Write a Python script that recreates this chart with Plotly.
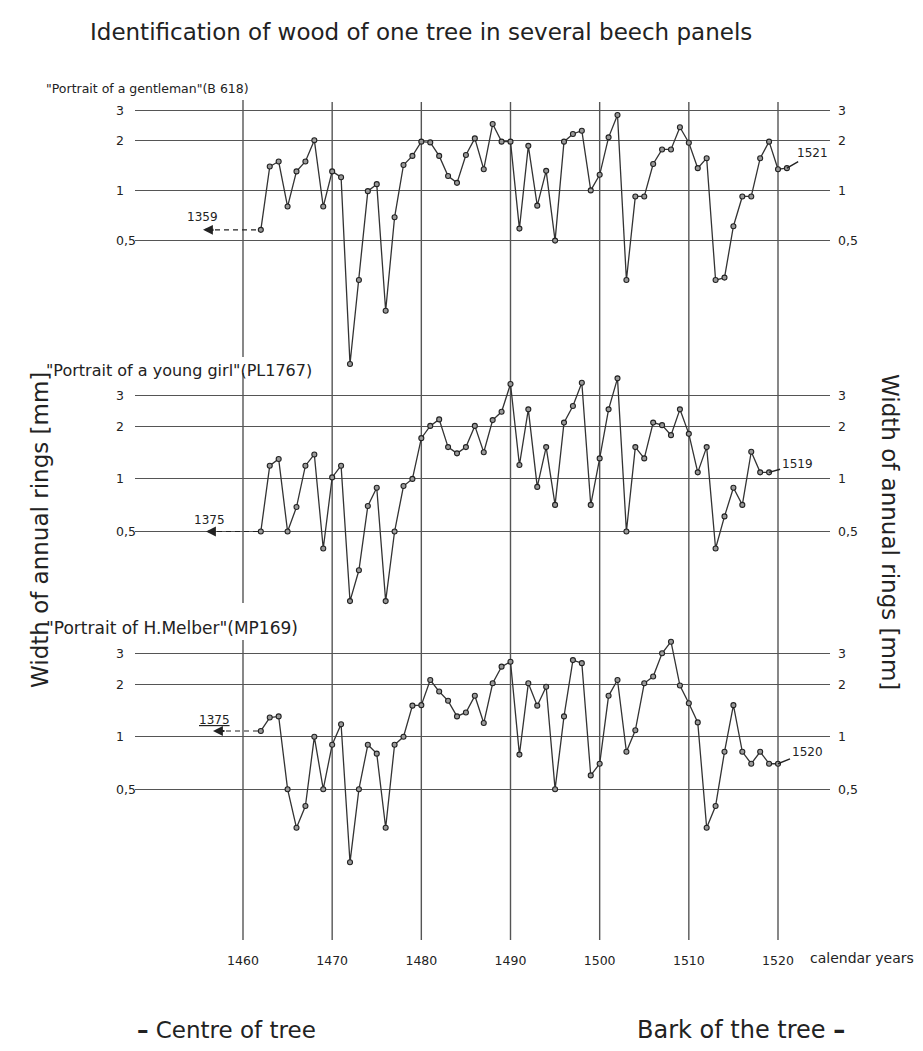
import math
import plotly.graph_objects as go

# ---------------- data ----------------
YEARS_GENTLEMAN = list(range(1462, 1522))
RINGS_GENTLEMAN = [0.58, 1.39, 1.49, 0.80, 1.30, 1.49, 2.00, 0.80, 1.30, 1.20,
                   0.091, 0.29, 0.99, 1.09, 0.19, 0.69, 1.42, 1.61, 1.96, 1.94,
                   1.61, 1.22, 1.11, 1.63, 2.05, 1.34, 2.50, 1.96, 1.96, 0.59,
                   1.85, 0.81, 1.31, 0.50, 1.96, 2.18, 2.28, 1.00, 1.24, 2.08,
                   2.83, 0.29, 0.92, 0.92, 1.44, 1.76, 1.76, 2.39, 1.93, 1.36,
                   1.56, 0.29, 0.30, 0.61, 0.92, 0.92, 1.56, 1.96, 1.34, 1.36]

YEARS_GIRL = list(range(1462, 1520))
RINGS_GIRL = [0.50, 1.19, 1.30, 0.50, 0.69, 1.19, 1.38, 0.40, 1.02, 1.19,
              0.20, 0.30, 0.70, 0.89, 0.20, 0.50, 0.91, 1.00, 1.71, 2.01,
              2.19, 1.52, 1.40, 1.52, 2.01, 1.42, 2.17, 2.42, 3.49, 1.20,
              2.50, 0.90, 1.52, 0.71, 2.10, 2.61, 3.55, 0.71, 1.31, 2.50,
              3.76, 0.50, 1.52, 1.31, 2.10, 2.03, 1.78, 2.50, 1.81, 1.09,
              1.52, 0.40, 0.61, 0.89, 0.71, 1.43, 1.09, 1.09]

YEARS_MELBER = list(range(1462, 1521))
RINGS_MELBER = [1.08, 1.29, 1.31, 0.50, 0.30, 0.40, 1.00, 0.50, 0.90, 1.18,
                0.19, 0.50, 0.90, 0.80, 0.30, 0.90, 1.00, 1.51, 1.52, 2.12,
                1.82, 1.61, 1.31, 1.38, 1.72, 1.20, 2.03, 2.53, 2.70, 0.79,
                2.03, 1.51, 1.94, 0.50, 1.31, 2.76, 2.65, 0.60, 0.70, 1.72,
                2.12, 0.82, 1.09, 2.03, 2.22, 3.02, 3.52, 1.97, 1.56, 1.21,
                0.30, 0.40, 0.82, 1.52, 0.82, 0.70, 0.82, 0.70, 0.70]

PANEL_TITLES = ['"Portrait of a gentleman"(B 618)',
                '"Portrait of a young girl"(PL1767)',
                '"Portrait of H.Melber"(MP169)']
START_LABELS = ["1359", "1375", "<u>1375</u>"]
END_LABELS = ["1521", "1519", "1520"]

Y_TICK_VALS = [0.5, 1, 2, 3]
Y_TICK_TEXT = ["0,5", "1", "2", "3"]
X_TICK_VALS = [1460, 1470, 1480, 1490, 1500, 1510, 1520]
X_TICK_TEXT = ["1460", "1470", "1480", "1490", "1500", "1510", "1520"]

TITLE = "Identification of wood of one tree in several beech panels"
Y_TITLE = "Width of annual rings [mm]"
X_UNIT = "calendar years"
LEFT_NOTE = "<b>\u2013</b> Centre of tree"
RIGHT_NOTE = "Bark of the tree <b>\u2013</b>"

# ---------------- geometry (page pixels) ----------------
OFF = 8                      # body margin of the html page
W, H = 923 - OFF, 1051 - OFF
PL, PR, PT, PB = 135, 830, 100, 940
X0_PX, X1_PX = 243, 778          # pixel of 1460 and 1520
XK = (X1_PX - X0_PX) / 60.0

# per panel: pixel of value 1, px per decade, top px, bottom px
PANELS = [(190.4, 166.8, 100, 372),
          (478.9, 174.8, 375, 615),
          (736.8, 174.0, 636, 880)]
SUB_Y = [88, 370, 628]
SUB_SIZE = [12.5, 16, 17]
START_GEOM = [  # label centre px, arrow head px, arrow tail px, label dy
    (202, 203, 215, -13),
    (209, 206, 217, -12),
    (214, 213, 226, -11)]
END_OFFS = [(26, -15), (28, -8), (29, -12)]

FONT = "DejaVu Sans"
INK = "#222222"
GRID = "#555555"


def py(p):
    return (PB - p) / (PB - PT)


def px(p):
    return (p - PL) / (PR - PL)


def yr(p):
    return 1460 + (p - X0_PX) / XK


def note(x, y, text, size, **kw):
    d = dict(x=px(x), y=py(y), xref="paper", yref="paper", text=text,
             showarrow=False, xanchor="center", yanchor="middle",
             font=dict(family=FONT, size=size, color=INK))
    d.update(kw)
    return d


fig = go.Figure()
series = [(YEARS_GENTLEMAN, RINGS_GENTLEMAN),
          (YEARS_GIRL, RINGS_GIRL),
          (YEARS_MELBER, RINGS_MELBER)]

annotations = []
shapes = []
layout_axes = {}

for i, ((yrs, vals), (c, k, top, bot)) in enumerate(zip(series, PANELS)):
    yname = "y" if i == 0 else f"y{i+1}"
    axname = "yaxis" if i == 0 else f"yaxis{i+1}"
    layout_axes[axname] = dict(
        type="log", domain=[py(bot), py(top)],
        range=[(c - bot) / k, (c - top) / k],
        tickmode="array", tickvals=Y_TICK_VALS, showticklabels=False,
        showgrid=True, gridcolor=GRID, gridwidth=1.4, zeroline=False,
        showline=False, ticks="", anchor="x", fixedrange=True)

    # dashed lead-in from the arrow to the first measured ring
    lab_c, head, tail, dy = START_GEOM[i]
    fig.add_trace(go.Scatter(
        x=[yr(tail), yrs[0]], y=[vals[0], vals[0]], yaxis=yname, xaxis="x",
        mode="lines", line=dict(color=INK, width=1.2, dash="5px,4px"),
        hoverinfo="skip", showlegend=False))
    # measured series
    fig.add_trace(go.Scatter(
        x=yrs, y=vals, yaxis=yname, xaxis="x", mode="lines+markers",
        line=dict(color="#333333", width=1.3),
        marker=dict(size=5, color="#9a9a9a", line=dict(color=INK, width=1.1)),
        showlegend=False, name=PANEL_TITLES[i]))

    lv0 = math.log10(vals[0])
    # arrow pointing to the tree centre
    annotations.append(dict(
        x=yr(head), y=lv0, xref="x", yref=yname, text="", showarrow=True,
        ax=tail - head, ay=0, arrowhead=2, arrowsize=0.9, arrowwidth=2.2,
        arrowcolor=INK))
    annotations.append(dict(
        x=yr(lab_c), y=lv0, xref="x", yref=yname, text=START_LABELS[i],
        showarrow=False, yshift=-dy, xanchor="center", yanchor="middle",
        font=dict(family=FONT, size=12, color=INK)))
    # end label with pointer
    axo, ayo = END_OFFS[i]
    annotations.append(dict(
        x=yrs[-1], y=math.log10(vals[-1]), xref="x", yref=yname,
        text=END_LABELS[i], showarrow=True, arrowhead=0, arrowwidth=1.4,
        arrowcolor=INK, ax=axo, ay=ayo, standoff=0,
        font=dict(family=FONT, size=12, color=INK)))
    # tick labels on both sides
    for v, t in zip(Y_TICK_VALS, Y_TICK_TEXT):
        for xl in (114, 836):
            annotations.append(dict(
                x=px(xl), y=math.log10(v), xref="paper", yref=yname, text=t,
                showarrow=False, xanchor="left", yanchor="middle",
                font=dict(family=FONT, size=12.5, color=INK)))
    # panel title
    annotations.append(note(44, SUB_Y[i], PANEL_TITLES[i], SUB_SIZE[i],
                            xanchor="left"))

# vertical year lines across all panels
VGAPS = {1460: [(100, 357), (373, 603), (640, PB)]}
for yv in X_TICK_VALS:
    segs = VGAPS.get(yv, [(102, PB)])
    for a, b in segs:
        shapes.append(dict(type="line", xref="x", yref="paper", x0=yv, x1=yv,
                           y0=py(b), y1=py(a),
                           line=dict(color=GRID, width=1.4), layer="below"))

annotations += [
    note(421, 32, TITLE, 23),
    note(40, 530, Y_TITLE, 23, textangle=-90),
    note(890, 532, Y_TITLE, 23, textangle=90),
    note(808, 958, X_UNIT, 14, xanchor="left"),
    note(226, 1030, LEFT_NOTE, 23),
    note(741, 1030, RIGHT_NOTE, 24),
]

x_lo = 1460 - (X0_PX - PL) / XK
x_hi = 1520 + (PR - X1_PX) / XK

fig.update_layout(
    width=W, height=H,
    margin=dict(l=PL - OFF, r=W - (PR - OFF), t=PT - OFF, b=H - (PB - OFF),
                pad=0),
    paper_bgcolor="white", plot_bgcolor="white",
    showlegend=False,
    xaxis=dict(range=[x_lo, x_hi], anchor="free", position=0,
               tickmode="array", tickvals=X_TICK_VALS, ticktext=X_TICK_TEXT,
               showgrid=False, zeroline=False, showline=False, ticks="",
               ticklabelstandoff=11, fixedrange=True,
               tickfont=dict(family=FONT, size=12.5, color=INK)),
    annotations=annotations, shapes=shapes,
    **layout_axes)

fig.write_html("out.html")
